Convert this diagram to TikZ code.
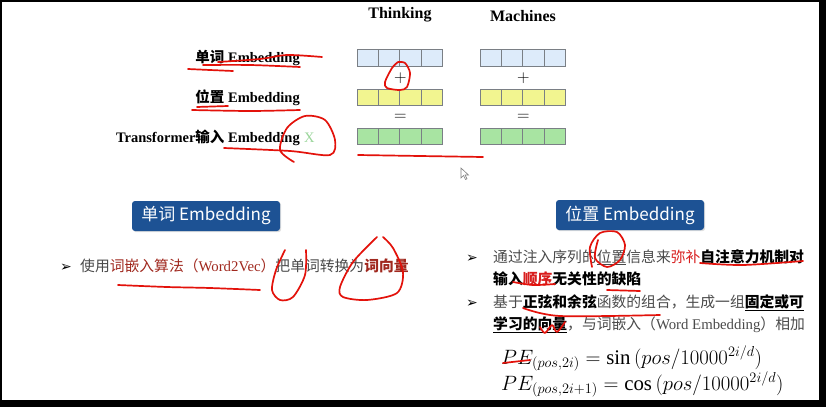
\documentclass[tikz,border=0pt]{standalone}
\usepackage{fontspec}
\setmainfont{Liberation Serif}
\newfontfamily\cjk{Noto Sans CJK SC}
\newfontfamily\dingbat{DejaVu Sans}
\usepackage{xcolor}
\usetikzlibrary{positioning,calc,shadows}
\definecolor{wordB}{HTML}{DDEBFA}
\definecolor{posY}{HTML}{F2F590}
\definecolor{sumG}{HTML}{A8E4A2}
\definecolor{cellD}{HTML}{7A7F85}
\definecolor{tagB}{HTML}{1D5294}
\definecolor{txtG}{HTML}{4A4A4A}
\definecolor{keyR}{HTML}{A0281E}
\definecolor{hotR}{HTML}{D81E1E}
\definecolor{penR}{HTML}{E3120B}
\definecolor{xG}{HTML}{9BD69B}
\newcommand{\fsz}[1]{\fontsize{#1}{#1}\selectfont}

\begin{document}
\begin{tikzpicture}[x=1pt, y=-1pt,
  cell/.style={draw=cellD, line width=1pt, minimum width=21.4pt, minimum height=16.8pt, inner sep=0pt},
  lab/.style={anchor=base east, inner sep=0pt, font=\bfseries\fsz{14.5}},
  op/.style={font=\fsz{18}, inner sep=0pt},
  tag/.style={fill=tagB, rounded corners=3pt, text=white, font=\cjk\fsz{17}, minimum width=148pt, minimum height=30pt, inner sep=0pt, drop shadow={opacity=0.25, shadow xshift=1.2pt, shadow yshift=-1.2pt}},
  txt/.style={anchor=base west, inner sep=0pt, font=\cjk\fsz{14.8}},
  bul/.style={anchor=base west, inner sep=0pt, font=\dingbat\fsz{14}},
  ink/.style={draw=penR, line width=1.7pt, line cap=round, line join=round}]
% frame of the screenshot
\fill[black] (0,0) rectangle (826,407);
\fill[white] (2,2) rectangle (819,400);
\useasboundingbox (0,0) rectangle (826,407);

% embedding vectors
\foreach \w/\x in {T/357, M/480}{
  \foreach \r/\y/\c in {w/58.3/wordB, p/97.5/posY, s/136.4/sumG}{
    \foreach \k in {0,...,3}
      \node[cell, fill=\c] (\w\r\k) at (\x+10.7+\k*21.4, \y) {};
  }
}
\foreach \w in {T,M}{
  \node[op] (plus\w) at ($(\w w1.south east)!0.5!(\w p1.north east)$) {$+$};
  \node[op] (eq\w) at ($(\w p1.south east)!0.5!(\w s1.north east)$) {$=$};
}
\node[font=\bfseries\fsz{16}, inner sep=0pt] (thinking) at (400,15) {Thinking};
\node[font=\bfseries\fsz{16}, inner sep=0pt] (machines) at (523,16) {Machines};

\node[lab] (wordlab) at (300,62) {{\cjk 单词} Embedding};
\node[lab] (poslab) at (300,102) {{\cjk 位置} Embedding};
\node[lab] (inlab) at (300,142) {Transformer{\cjk 输入} Embedding};
\node[anchor=base west, inner sep=0pt, text=xG, font=\fsz{14.5}] (xlab) at ($(inlab.base east)+(4,0)$) {X};

% word embedding notes
\node[tag] (wordtag) at (206,216) {单词 Embedding};
\node[bul] (wb1) at (60,271) {➢};
\node[txt, text=txtG] (wl1) at (80,271) {使用{\color{keyR}词嵌入算法（{\rmfamily Word2Vec}）}把单词转换为{\color{keyR}\bfseries 词向量}};

% position embedding notes
\node[tag] (postag) at (630,215) {位置 Embedding};
\node[bul] (pb1) at (466,262) {➢};
\node[txt, text=txtG] (pl1) at (493,262) {通过注入序列的\underline{位置}信息来{\color{hotR}弥补}{\color{black}\bfseries 自注意力机制对}};
\node[txt] (pl2) at (493,284) {\bfseries 输入{\color{hotR}顺序}无关性的缺陷};
\node[bul] (pb2) at (466,307) {➢};
\node[txt, text=txtG] (pl3) at (493,307) {基于{\color{black}\bfseries 正弦和余弦}函数的组合，生成一组{\color{black}\bfseries\underline{固定或可}}};
\node[txt, text=txtG] (pl4) at (493,329) {{\color{black}\bfseries\underline{学习的向量}}，与词嵌入（{\rmfamily Word Embedding}）相加};
\node[anchor=base west, inner sep=0pt, font=\fsz{20.8}] (pe1) at (501,364) {$PE_{(pos,2i)} = \sin\,(pos/10000^{2i/d})$};
\node[anchor=base west, inner sep=0pt, font=\fsz{20.8}] (pe2) at (501,390) {$PE_{(pos,2i+1)} = \cos\,(pos/10000^{2i/d})$};

% mouse pointer
\draw[gray, fill=white, line width=0.6pt] (461,168) -- ++(0,10) -- ++(2.5,-2.5) -- ++(2,4) -- ++(1.5,-0.7) -- ++(-2,-3.8) -- ++(3.5,0) -- cycle;

% red pen marks
\draw[ink] plot[smooth] coordinates {(188,69) (210,70) (233,71)};
\draw[ink] plot[smooth] coordinates {(203,65) (250,65) (300,67)};
\draw[ink] plot[smooth] coordinates {(218,62) (260,59) (287,55) (322,57)};
\draw[ink] plot[smooth] coordinates {(197,107) (228,106)};
\draw[ink] plot[smooth] coordinates {(192,110) (250,111) (300,110)};
\draw[ink] plot[smooth] coordinates {(224,148) (290,151) (330,155) (335,140) (325,120) (305,116) (287,128) (280,150) (294,162)};
\draw[ink] plot[smooth] coordinates {(398,62) (405,63) (410,73) (407,87) (400,90) (387,88) (385,82) (392,68) (398,62)};
\draw[ink] plot[smooth] coordinates {(358,155) (420,156) (483,157)};
\draw[ink] plot[smooth] coordinates {(118,285) (167,287) (210,288) (260,290)};
\draw[ink] plot[smooth] coordinates {(285,250) (276,270) (272,290) (280,300) (293,297) (305,275) (306,250)};
\draw[ink] plot[smooth] coordinates {(377,237) (353,262) (340,287) (343,297) (367,300) (397,293) (403,272) (393,248) (383,237)};
\draw[ink] plot[smooth] coordinates {(592,267) (590,247) (600,233) (617,232) (625,245) (620,260) (607,267) (595,258) (598,240)};
\draw[ink] plot[smooth] coordinates {(700,263) (743,265) (803,261)};
\draw[ink] plot[smooth] coordinates {(513,282) (533,285) (555,284)};
\draw[ink] plot[smooth] coordinates {(607,290) (640,291)};
\draw[ink] plot[smooth] coordinates {(523,308) (560,316) (660,315)};
\draw[ink] plot[smooth] coordinates {(540,327) (545,333) (552,325) (557,332) (565,322)};
\draw[ink] plot[smooth] coordinates {(503,363) (530,360)};
\end{tikzpicture}
\end{document}
